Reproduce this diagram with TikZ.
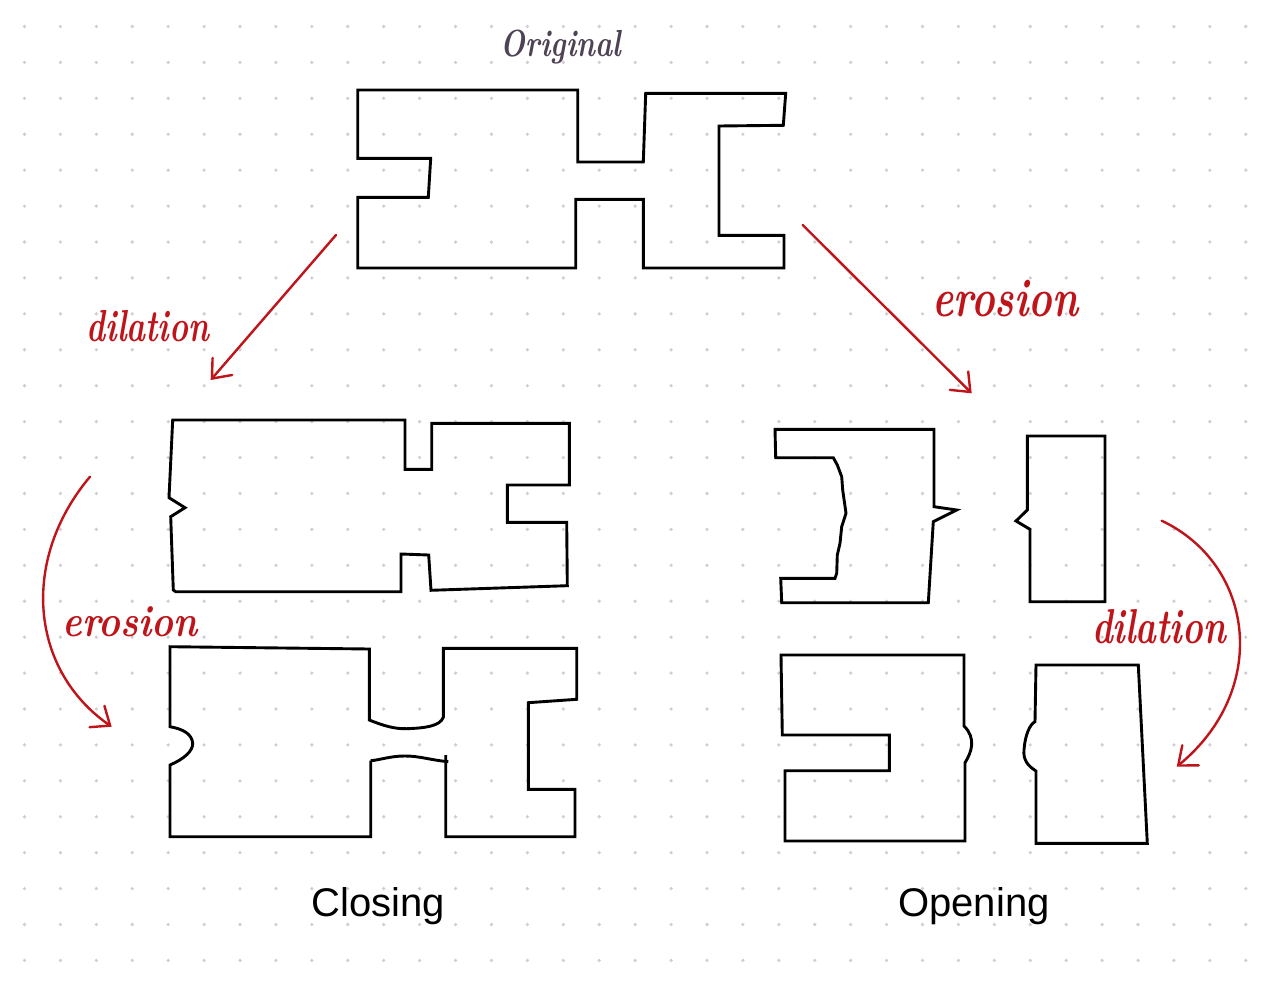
\documentclass[tikz,border=0pt]{standalone}
\usepackage{fontspec}
\usepackage{graphicx}
\usetikzlibrary{arrows.meta}
\newfontfamily\labelfont{Liberation Sans}
\definecolor{inkred}{RGB}{190,20,26}
\definecolor{inkgray}{RGB}{78,66,84}
\definecolor{dotc}{RGB}{208,206,210}
\begin{document}
\begin{tikzpicture}[x=1pt,y=-1pt,
  outline/.style={draw=black, line width=2.9pt, line join=miter},
  redarrow/.style={draw=inkred, line width=2.4pt, line cap=round,
    -{Straight Barb[length=16pt,width=26pt,line cap=round]}},
  handred/.style={anchor=base, text=inkred, inner sep=0pt},
  handgray/.style={anchor=base, text=inkgray, inner sep=0pt},
  caption/.style={anchor=base, text=black, inner sep=0pt,
    font=\labelfont\fontsize{40}{46}\selectfont}]
\fill[white] (0,0) rectangle (1270,983);
\useasboundingbox (0,0) rectangle (1270,983);
% dot grid
\foreach \i in {0,...,34}{
  \foreach \j in {0,...,26}{
    \fill[dotc] ({24.5+35.92*\i},{26.5+35.92*\j}) circle (1.8);
  }
}
% original
\draw[outline] (357.7,90) -- (577.7,90) -- (577.7,162) -- (643.3,162) -- (645.7,93.3)
  -- (785.7,93.3) -- (783.3,125.3) -- (719,126) -- (719,235.3) -- (784,235.3)
  -- (784,268) -- (643.3,268) -- (643.3,199.3) -- (575.7,199.3) -- (575.7,268)
  -- (357.7,268) -- (357.7,197.3) -- (428.3,197.3) -- (430.7,158.3) -- (357.7,158.3) -- cycle;
% closing: dilated
\draw[outline] (172.7,420) -- (405,420) -- (405,469.3) -- (431.7,469.3) -- (431.7,423.3)
  -- (569.3,423.3) -- (569.3,485) -- (507.3,485) -- (507.3,522.3) -- (566.7,522.3)
  -- (567.3,585.7) -- (431,590.3) -- (428.7,555) -- (401,554) -- (401,591.7)
  -- (175.7,591.7) -- (173.3,590) -- (170.7,516.7) -- (185,507.7) -- (169,497.7) -- cycle;
% closing: eroded
\draw[outline] (370.7,760.7) -- (370.7,836.7) -- (170,836.7) -- (170,765)
  .. controls (184,759) and (193,751) .. (192.7,743.3)
  .. controls (192,734) and (183,729) .. (170,726.7)
  -- (170,646.7) -- (369.3,649) -- (369.3,720)
  .. controls (384,726) and (395,729) .. (406.7,728.7)
  .. controls (426,728) and (440,726) .. (443.3,717.3)
  -- (443.3,648.3) -- (576.7,648.3) -- (576.7,699.3) -- (528.3,702.7) -- (528.3,789.3)
  -- (575,789.3) -- (575,836.7) -- (445.7,836.7) -- (445.7,755);
\draw[outline] (448.3,761.7) .. controls (430,760) and (420,756) .. (405,756)
  .. controls (390,756) and (380,760) .. (370.7,760.7);
% opening: eroded
\draw[outline] (775,429.3) -- (934,429.3) -- (934,506.7) -- (956.7,510) -- (933.3,521.7)
  -- (928.3,602.7) -- (781.7,602.7) -- (780.7,578.3) -- (835,578.3) -- (836.7,573.3)
  -- (837.3,555) -- (840,543.3) -- (841.7,526.7) -- (846,513.3) -- (842.7,490)
  -- (841.7,476.7) -- (837.3,465) -- (833.3,457.7) -- (775.7,457.7) -- cycle;
\draw[outline] (1027.3,436) -- (1105,436) -- (1105,601.7) -- (1030,601.7) -- (1030,529.3)
  -- (1016,521) -- (1027.3,510) -- cycle;
% opening: dilated
\draw[outline] (781,655) -- (964,655) -- (964,726)
  .. controls (970,732) and (972,738) .. (971.7,745)
  .. controls (971,752) and (968,758) .. (965,762.7)
  -- (965,841) -- (785,841) -- (785,770.7) -- (889.3,770.7) -- (889.3,735)
  -- (782.3,735) -- cycle;
\draw[outline] (1036,665) -- (1138.3,665) -- (1147.3,843.3) -- (1036,843.3) -- (1036,771)
  .. controls (1028,766) and (1023,760) .. (1024,750)
  .. controls (1025,735) and (1030,724) .. (1035,721.7) -- cycle;
% arrow end points
\coordinate (a1s) at (336,235);   \coordinate (a1e) at (210.7,380);
\coordinate (a2s) at (802.7,225); \coordinate (a2e) at (971.7,393.3);
\coordinate (a3s) at (90,476.7);  \coordinate (a3e) at (111.7,726.7);
\coordinate (a4s) at (1161.7,520.7); \coordinate (a4e) at (1176.7,766.7);
\draw[redarrow] (a1s) -- (a1e);
\draw[redarrow] (a2s) -- (a2e);
\draw[redarrow] (a3s) .. controls (20,560) and (30,670) .. (a3e);
\draw[redarrow] (a4s) .. controls (1255,565) and (1270,690) .. (a4e);
% labels
\node[handgray, font=\fontsize{29}{34}\selectfont\bfseries\itshape] (orig) at (561,56) {\scalebox{1}[1.3]{Original}};
\node[handred, font=\fontsize{32}{38}\selectfont\bfseries\itshape] (dil1) at (148,341.7) {\scalebox{1}[1.4]{dilation}};
\node[handred, font=\fontsize{40}{46}\selectfont\bfseries\itshape] (ero1) at (1005,316.7) {\scalebox{1}[1.35]{erosion}};
\node[handred, font=\fontsize{37}{42}\selectfont\bfseries\itshape] (ero2) at (130,636.7) {\scalebox{1}[1.2]{erosion}};
\node[handred, font=\fontsize{35}{40}\selectfont\bfseries\itshape] (dil2) at (1159,643) {\scalebox{1}[1.4]{dilation}};
\node[caption] (closing) at (378,916.7) {Closing};
\node[caption] (opening) at (974,916) {Opening};
\end{tikzpicture}
\end{document}
